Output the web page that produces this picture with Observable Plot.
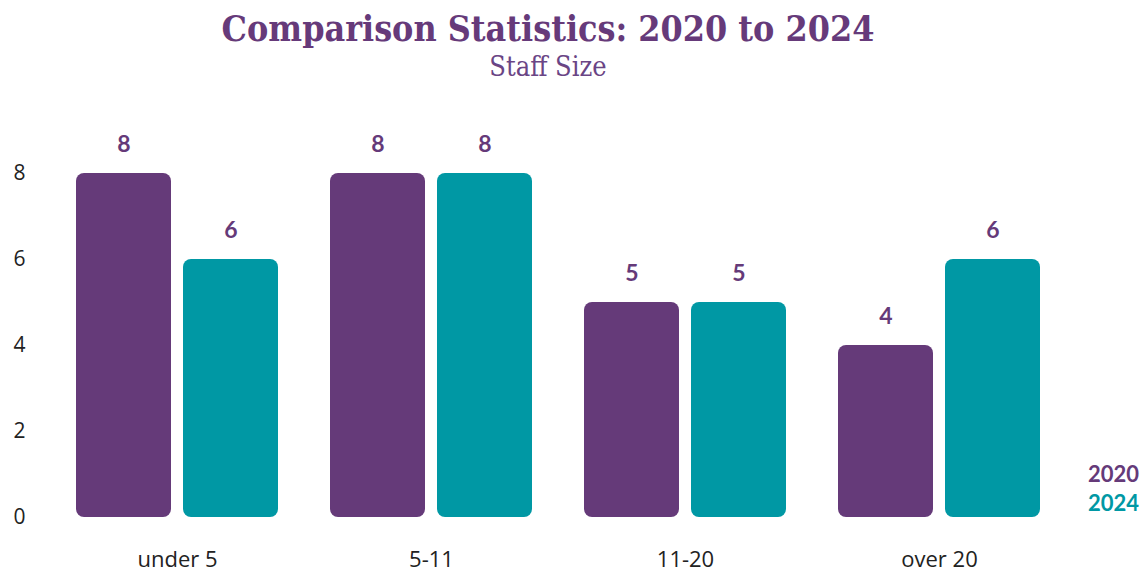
<!DOCTYPE html>
<html>
<head>
<meta charset="utf-8">
<script src="https://cdn.jsdelivr.net/npm/d3@7"></script>
<script src="https://cdn.jsdelivr.net/npm/@observablehq/plot@0.6"></script>
<style>
  html, body { margin: 0; padding: 0; background: #fff; }
  #wrap { position: relative; width: 1142px; height: 573px; overflow: hidden; }
  #head { height: 90px; width: 1096px; text-align: center; }
  #title { font-family: "DejaVu Serif Condensed", "DejaVu Serif", serif; font-weight: bold; font-size: 35.5px; color: #663a7a; padding-top: 8px; line-height: 42px; }
  #subtitle { font-family: "DejaVu Serif Condensed", "DejaVu Serif", serif; font-size: 27px; color: #6a4585; line-height: 34px; }
  #legend { position: absolute; right: 3px; top: 459px; font-family: Lato, "Open Sans", sans-serif; font-weight: bold; font-size: 22px; line-height: 29px; text-align: right; }
</style>
</head>
<body>
<div id="wrap">
  <div id="head">
    <div id="title"></div>
    <div id="subtitle"></div>
  </div>
  <div id="chart"></div>
  <div id="legend"></div>
</div>
<script>
const titleText = "Comparison Statistics: 2020 to 2024";
const subtitleText = "Staff Size";
const groups = ["under 5", "5-11", "11-20", "over 20"];
const series = ["2020", "2024"];
const values2020 = [8, 8, 5, 4];
const values2024 = [6, 8, 5, 6];
const colors = ["#653a79", "#0098a4"];
const yTicks = [0, 2, 4, 6, 8];

document.getElementById("title").textContent = titleText;
document.getElementById("subtitle").textContent = subtitleText;
const legend = document.getElementById("legend");
series.forEach((s, i) => {
  const d = document.createElement("div");
  d.textContent = s;
  d.style.color = colors[i];
  legend.appendChild(d);
});

const data = [];
groups.forEach((g, i) => {
  data.push({group: g, year: series[0], value: values2020[i]});
  data.push({group: g, year: series[1], value: values2024[i]});
});

const chart = Plot.plot({
  width: 1142,
  height: 483,
  marginLeft: 50,
  marginRight: 76,
  marginTop: 83,
  marginBottom: 56,
  style: {fontFamily: "Lato, 'Open Sans', sans-serif", overflow: "visible", background: "transparent"},
  fx: {domain: groups, paddingInner: 0.197, paddingOuter: 0.098, label: null, axis: null},
  x: {domain: series, paddingInner: 0.111, paddingOuter: 0, axis: null},
  y: {domain: [0, 8], axis: null},
  color: {domain: series, range: colors},
  marks: [
    Plot.axisY({ticks: yTicks, tickSize: 0, tickPadding: 50, label: null, fontSize: 21, fill: "#222", fontFamily: "'Open Sans', sans-serif", anchor: "left"}),
    Plot.axisFx({anchor: "bottom", tickSize: 0, tickPadding: 34, label: null, fontSize: 22, fill: "#222", fontFamily: "'Open Sans', sans-serif"}),
    Plot.barY(data, {fx: "group", x: "year", y: "value", fill: "year", rx: 8}),
    Plot.text(data, {fx: "group", x: "year", y: "value", text: d => String(d.value), dy: -29, fill: "#653a79", fontSize: 23, fontWeight: "bold"})
  ]
});
document.getElementById("chart").appendChild(chart);
</script>
</body>
</html>
